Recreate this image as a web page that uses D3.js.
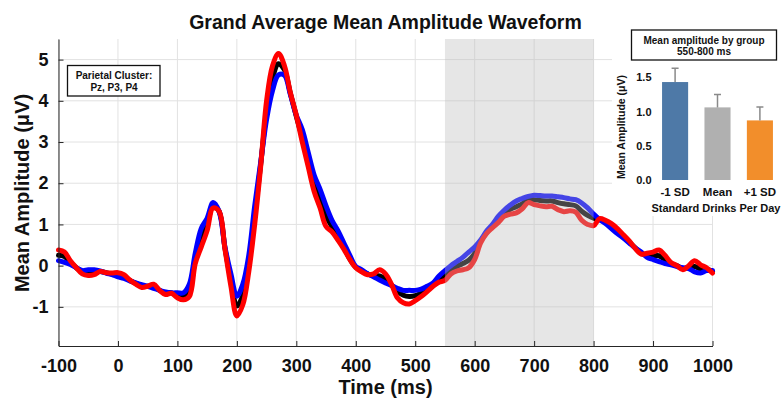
<!DOCTYPE html>
<html>
<head>
<meta charset="utf-8">
<script src="https://cdn.jsdelivr.net/npm/d3@7"></script>
<style>
  body { margin: 0; background: #fff; }
  text { font-family: "Liberation Sans", Arial, sans-serif; font-weight: bold; fill: #111; }
</style>
</head>
<body>
<div id="chart"></div>
<script>

let svgWidth = 782;
let svgHeight = 401;

// timepoints (ms)
let times = [-100,-90,-80,-70,-60,-50,-40,-30,-20,-10,0,10,20,30,40,50,60,70,80,90,
  100,110,120,130,140,150,160,170,180,190,200,210,220,230,240,250,260,270,280,290,
  300,310,320,330,340,350,360,370,380,390,400,410,420,430,440,450,460,470,480,490,
  500,510,520,530,540,550,560,570,580,590,600,610,620,630,640,650,660,670,680,690,
  700,710,720,730,740,750,760,770,780,790,800,810,820,830,840,850,860,870,880,890,
  900,910,920,930,940,950,960,970,980,990,1000];

// mean group (black)
let meanWave = [0.25,0.22,0.08,-0.05,-0.15,-0.15,-0.15,-0.14,-0.17,-0.2,-0.22,-0.27,-0.36,-0.43,-0.49,-0.5,-0.5,-0.6,-0.66,-0.66,
  -0.72,-0.75,-0.6,0.15,0.7,1.0,1.45,1.32,0.42,-0.35,-0.98,-0.72,0.05,1.2,2.45,3.75,4.55,4.9,4.75,4.18,
  3.62,3.1,2.5,1.95,1.6,1.2,0.95,0.7,0.45,0.16,-0.04,-0.13,-0.2,-0.25,-0.25,-0.33,-0.47,-0.62,-0.72,-0.75,
  -0.73,-0.66,-0.57,-0.47,-0.33,-0.25,-0.1,-0.02,0.05,0.13,0.3,0.6,0.8,0.97,1.13,1.28,1.37,1.43,1.5,1.6,
  1.6,1.58,1.57,1.57,1.53,1.5,1.48,1.45,1.32,1.22,1.15,1.12,1.06,0.96,0.84,0.71,0.57,0.43,0.3,0.25,
  0.24,0.24,0.15,0.05,0.0,-0.07,-0.04,-0.02,-0.08,-0.08,-0.14];

// -1 SD group (blue)
let lowWave = [0.12,0.08,0.03,-0.05,-0.12,-0.1,-0.1,-0.13,-0.18,-0.22,-0.27,-0.31,-0.37,-0.42,-0.46,-0.5,-0.55,-0.6,-0.64,-0.66,
  -0.66,-0.66,-0.45,0.3,0.9,1.15,1.53,1.32,0.45,-0.2,-0.74,-0.45,0.25,1.45,2.5,3.55,4.25,4.63,4.62,4.15,
  3.65,3.3,2.75,2.2,1.85,1.45,1.1,0.85,0.55,0.25,-0.02,-0.1,-0.2,-0.27,-0.35,-0.42,-0.48,-0.55,-0.6,-0.6,
  -0.6,-0.57,-0.5,-0.42,-0.25,-0.12,0.0,0.1,0.2,0.33,0.45,0.62,0.84,1.0,1.2,1.35,1.47,1.57,1.63,1.68,
  1.71,1.7,1.69,1.69,1.67,1.65,1.62,1.6,1.52,1.4,1.25,1.12,1.02,0.9,0.78,0.67,0.55,0.43,0.33,0.2,
  0.15,0.1,0.05,0.02,-0.02,-0.05,-0.07,-0.15,-0.18,-0.12,-0.12];

// +1 SD group (red)
let highWave = [0.38,0.33,0.12,-0.05,-0.2,-0.24,-0.22,-0.14,-0.17,-0.18,-0.17,-0.22,-0.35,-0.45,-0.53,-0.5,-0.45,-0.6,-0.7,-0.67,
  -0.78,-0.83,-0.75,0.05,0.45,0.85,1.4,1.32,0.4,-0.5,-1.22,-0.95,-0.15,1.0,2.4,4.0,4.85,5.15,4.85,4.2,
  3.65,3.0,2.4,1.8,1.4,0.95,0.82,0.62,0.4,0.15,-0.05,-0.15,-0.22,-0.2,-0.1,-0.2,-0.45,-0.78,-0.9,-0.93,
  -0.85,-0.75,-0.63,-0.5,-0.4,-0.36,-0.2,-0.13,-0.1,-0.05,0.15,0.55,0.78,0.92,1.05,1.2,1.25,1.28,1.38,1.53,
  1.48,1.45,1.43,1.44,1.36,1.31,1.33,1.3,1.1,1.0,0.97,1.14,1.1,1.02,0.9,0.75,0.6,0.42,0.28,0.3,
  0.33,0.38,0.25,0.08,0.0,-0.1,0.0,0.12,0.02,-0.05,-0.18];

let xTicks = [-100,0,100,200,300,400,500,600,700,800,900,1000];
let yTicks = [-1,0,1,2,3,4,5];
let windowMs = [550, 800];

// inset bar chart
let groups = ["-1 SD", "Mean", "+1 SD"];
let barMeans = [1.43, 1.06, 0.87];
let barErrors = [0.20, 0.19, 0.195];
let barColors = ["#4e79a7", "#b0b0b0", "#f28e2b"];
let insetTicks = [0, 0.5, 1.0, 1.5];

let svg = d3.select("#chart")
  .append("svg")
  .attr("width", svgWidth)
  .attr("height", svgHeight);

let xScale = d3.scaleLinear().domain([-100, 1000]).range([58.5, 712.5]);
let yScale = d3.scaleLinear().domain([-1.95, 5.5]).range([346, 39]);

// grid
let grid = svg.append("g");
grid.selectAll(".vgrid")
  .data(xTicks)
  .enter()
  .append("line")
  .attr("x1", d => xScale(d)).attr("x2", d => xScale(d))
  .attr("y1", yScale.range()[1]).attr("y2", yScale.range()[0])
  .attr("stroke", "#e2e2e2").attr("stroke-width", 1);
grid.selectAll(".hgrid")
  .data(yTicks)
  .enter()
  .append("line")
  .attr("x1", xScale.range()[0]).attr("x2", xScale.range()[1])
  .attr("y1", d => yScale(d)).attr("y2", d => yScale(d))
  .attr("stroke", "#e2e2e2").attr("stroke-width", 1);

// waveforms
let waves = [
  { values: meanWave, color: "#000000" },
  { values: lowWave, color: "#0000ff" },
  { values: highWave, color: "#ff0000" }
];

let line = d3.line()
  .x(d => xScale(d[0]))
  .y(d => yScale(d[1]))
  .curve(d3.curveCatmullRom.alpha(0.5));

waves.forEach(w => {
  svg.append("path")
    .datum(times.map((t, i) => [t, w.values[i]]))
    .attr("d", line)
    .attr("fill", "none")
    .attr("stroke", w.color)
    .attr("stroke-width", 5)
    .attr("stroke-linejoin", "round")
    .attr("stroke-linecap", "round");
});

// analysis window patch (drawn over lines, semi transparent)
svg.append("rect")
  .attr("x", xScale(windowMs[0]))
  .attr("y", yScale.range()[1])
  .attr("width", xScale(windowMs[1]) - xScale(windowMs[0]))
  .attr("height", yScale.range()[0] - yScale.range()[1])
  .attr("fill", "#bababa")
  .attr("fill-opacity", 0.37);

// axes
let bottomAxis = d3.axisBottom(xScale).tickValues(xTicks).tickFormat(d => String(d))
  .tickSizeInner(-5).tickSizeOuter(0).tickPadding(12);
let leftAxis = d3.axisLeft(yScale).tickValues(yTicks).tickFormat(d => String(d))
  .tickSizeInner(-5).tickSizeOuter(0).tickPadding(10);

let xAxis = svg.append("g")
  .attr("transform", `translate(0, ${yScale.range()[0]})`)
  .call(bottomAxis);
let yAxis = svg.append("g")
  .attr("transform", `translate(${xScale.range()[0]}, 0)`)
  .call(leftAxis);

[xAxis, yAxis].forEach(ax => {
  ax.select(".domain").attr("stroke", "#262626");
  ax.selectAll(".tick line").attr("stroke", "#262626");
  ax.selectAll(".tick text")
    .attr("font-size", "18px")
    .attr("font-family", "Liberation Sans, Arial, sans-serif")
    .attr("font-weight", "bold")
    .attr("fill", "#111");
});
xAxis.selectAll(".tick text").attr("dy", "0.71em").attr("y", 13);

// title and axis labels
svg.append("text")
  .attr("x", 385.5).attr("y", 29)
  .attr("text-anchor", "middle")
  .attr("font-size", "19.5px")
  .text("Grand Average Mean Amplitude Waveform");

svg.append("text")
  .attr("x", 385.5).attr("y", 394)
  .attr("text-anchor", "middle")
  .attr("font-size", "20px")
  .text("Time (ms)");

svg.append("text")
  .attr("transform", "translate(29, 193) rotate(-90)")
  .attr("text-anchor", "middle")
  .attr("font-size", "20px")
  .text("Mean Amplitude (\u03bcV)");

// annotation box
svg.append("rect")
  .attr("x", 67.5).attr("y", 65.5)
  .attr("width", 92.5).attr("height", 30.5)
  .attr("fill", "#fff").attr("stroke", "#111").attr("stroke-width", 1.3);
svg.append("text")
  .attr("x", 114).attr("y", 78.5)
  .attr("text-anchor", "middle").attr("font-size", "10px")
  .text("Parietal Cluster:");
svg.append("text")
  .attr("x", 114).attr("y", 90.5)
  .attr("text-anchor", "middle").attr("font-size", "10px")
  .text("Pz, P3, P4");

// inset panel
let inset = svg.append("g");
inset.append("rect")
  .attr("x", 612).attr("y", 0)
  .attr("width", svgWidth - 612).attr("height", 216)
  .attr("fill", "#fff");

inset.append("rect")
  .attr("x", 631.5).attr("y", 30)
  .attr("width", 145).attr("height", 30)
  .attr("fill", "#fff").attr("stroke", "#111").attr("stroke-width", 1.3);
inset.append("text")
  .attr("x", 704).attr("y", 43.5)
  .attr("text-anchor", "middle").attr("font-size", "10px")
  .text("Mean amplitude by group");
inset.append("text")
  .attr("x", 704).attr("y", 54.5)
  .attr("text-anchor", "middle").attr("font-size", "10px")
  .text("550-800 ms");

let bx = d3.scaleBand().domain(groups).range([654, 781]).paddingInner(0.385).paddingOuter(0.19);
let by = d3.scaleLinear().domain([0, 1.6]).range([180, 70.4]);

inset.selectAll(".bar")
  .data(groups)
  .enter()
  .append("rect")
  .attr("x", d => bx(d))
  .attr("y", (d, i) => by(barMeans[i]))
  .attr("width", bx.bandwidth())
  .attr("height", (d, i) => by(0) - by(barMeans[i]))
  .attr("fill", (d, i) => barColors[i]);

inset.selectAll(".err")
  .data(groups)
  .enter()
  .append("path")
  .attr("d", (d, i) => {
    let cx = bx(d) + bx.bandwidth() / 2;
    let top = by(barMeans[i] + barErrors[i]);
    return `M${cx},${by(barMeans[i])}V${top}M${cx - 3.5},${top}H${cx + 3.5}`;
  })
  .attr("stroke", "#8a8a8a")
  .attr("stroke-width", 1.5)
  .attr("fill", "none");

inset.selectAll(".itick")
  .data(insetTicks)
  .enter()
  .append("text")
  .attr("x", 651.5)
  .attr("y", d => by(d) + 4)
  .attr("text-anchor", "end")
  .attr("font-size", "11px")
  .text(d => d3.format(".1f")(d));

inset.selectAll(".ilabel")
  .data(groups)
  .enter()
  .append("text")
  .attr("x", d => bx(d) + bx.bandwidth() / 2)
  .attr("y", 195.5)
  .attr("text-anchor", "middle")
  .attr("font-size", "11.5px")
  .text(d => d);

inset.append("text")
  .attr("x", 716).attr("y", 212)
  .attr("text-anchor", "middle")
  .attr("font-size", "11px")
  .text("Standard Drinks Per Day");

inset.append("text")
  .attr("transform", "translate(625, 127) rotate(-90)")
  .attr("text-anchor", "middle")
  .attr("font-size", "10.5px")
  .text("Mean Amplitude (\u03bcV)");

</script>
</body>
</html>
